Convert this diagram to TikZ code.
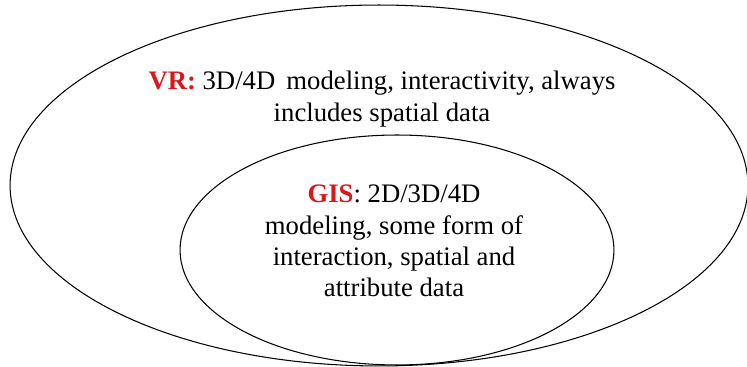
\documentclass[tikz,border=0pt]{standalone}
\usepackage{fontspec}
\setmainfont{Liberation Serif}
\usepackage{tikz}
\usetikzlibrary{positioning,shapes.geometric}

\definecolor{labelred}{RGB}{215,25,30}

\begin{document}
\begin{tikzpicture}[x=0.02cm,y=0.02cm,line join=bevel,
  set/.style={ellipse,draw,line width=0.6pt,inner sep=0pt},
  settext/.style={align=center,font=\fontsize{15.2}{17.8}\selectfont}]
%%
  \useasboundingbox (0,0) rectangle (747,367);

  \node (vr_set) at (379,181.5) [set,minimum width=14.76cm,minimum height=7.22cm] {};

  \node (gis_set) at (397,117) [set,minimum width=8.68cm,minimum height=4.6cm] {};

  \node (vr_text) at (382,268) [settext] {\textcolor{labelred}{\textbf{VR:}} 3D/4D\, modeling, interactivity, always\\includes spatial data};

  \node (gis_text) at (394,126) [settext] {\textcolor{labelred}{\textbf{GIS}}: 2D/3D/4D\\modeling, some form of\\interaction, spatial and\\attribute data};
%
\end{tikzpicture}
\end{document}
